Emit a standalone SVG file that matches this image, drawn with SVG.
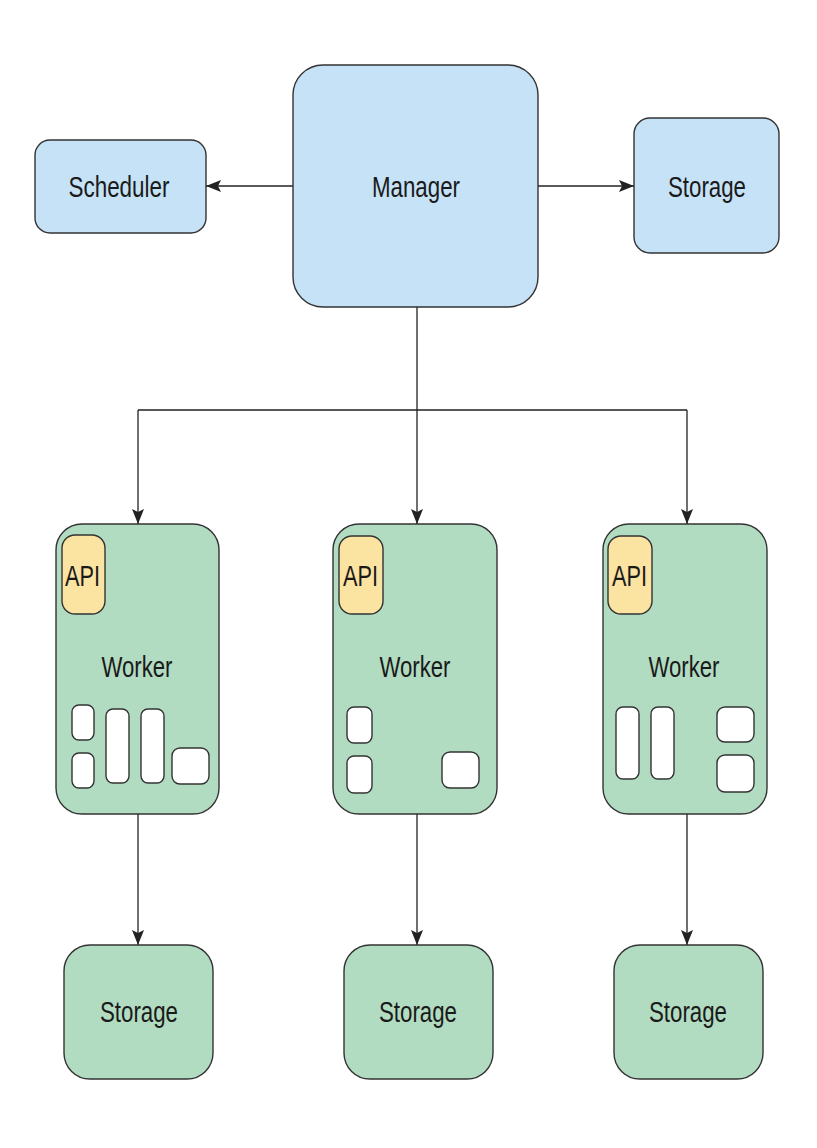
<svg xmlns="http://www.w3.org/2000/svg" width="817" height="1148" viewBox="0 0 817 1148">
<defs>
<marker id="ah" viewBox="0 0 15 12" refX="15" refY="6" markerWidth="15" markerHeight="12" markerUnits="userSpaceOnUse" orient="auto">
<path d="M0,0 L15,6 L0,12 L3,6 Z" fill="#222"/>
</marker>
</defs>
<style>
.blue{fill:#c6e2f6;stroke:#333;stroke-width:1.4}
.green{fill:#b2dcc1;stroke:#333;stroke-width:1.4}
.api{fill:#fbe3a1;stroke:#333;stroke-width:1.4}
.slot{fill:#fff;stroke:#333;stroke-width:1.4}
.lbl{font-family:"Liberation Sans",Arial,sans-serif;font-size:30px;fill:#1a1a1a;text-anchor:middle}
.apil{font-family:"Liberation Sans",Arial,sans-serif;font-size:30px;fill:#1a1a1a}
.conn{fill:none;stroke:#222;stroke-width:1.3}
</style>
<rect width="817" height="1148" fill="#fff"/>
<g id="connectors">
<line class="conn" x1="293" y1="186" x2="206" y2="186" marker-end="url(#ah)"/>
<line class="conn" x1="538" y1="186" x2="634" y2="186" marker-end="url(#ah)"/>
<path class="conn" d="M417,307 V410 M138,410 H687"/>
<line class="conn" x1="138" y1="410" x2="138" y2="524" marker-end="url(#ah)"/>
<line class="conn" x1="417" y1="410" x2="417" y2="524" marker-end="url(#ah)"/>
<line class="conn" x1="687" y1="410" x2="687" y2="524" marker-end="url(#ah)"/>
<line class="conn" x1="138" y1="814" x2="138" y2="945" marker-end="url(#ah)"/>
<line class="conn" x1="417" y1="814" x2="417" y2="945" marker-end="url(#ah)"/>
<line class="conn" x1="687" y1="814" x2="687" y2="945" marker-end="url(#ah)"/>
</g>
<g id="scheduler">
<rect class="blue" x="35" y="140" width="171" height="93" rx="15"/>
<text class="lbl" x="119" y="197" textLength="101" lengthAdjust="spacingAndGlyphs">Scheduler</text>
</g>
<g id="manager">
<rect class="blue" x="293" y="65" width="245" height="242" rx="30"/>
<text class="lbl" x="416" y="197" textLength="88" lengthAdjust="spacingAndGlyphs">Manager</text>
</g>
<g id="storage-top">
<rect class="blue" x="634" y="118" width="145" height="135" rx="16"/>
<text class="lbl" x="707" y="197" textLength="78" lengthAdjust="spacingAndGlyphs">Storage</text>
</g>
<g id="worker1">
<rect class="green" x="56" y="524" width="163" height="290" rx="26"/>
<rect class="api" x="62" y="535" width="43" height="79" rx="13"/>
<text class="apil" x="65" y="586" textLength="35" lengthAdjust="spacingAndGlyphs">API</text>
<text class="lbl" x="137" y="677" textLength="71" lengthAdjust="spacingAndGlyphs">Worker</text>
<rect class="slot" x="72" y="705" width="22" height="35" rx="7"/>
<rect class="slot" x="72" y="753" width="22" height="35" rx="7"/>
<rect class="slot" x="106" y="709" width="23" height="74" rx="7"/>
<rect class="slot" x="141" y="709" width="23" height="74" rx="7"/>
<rect class="slot" x="172" y="748" width="37" height="36" rx="8"/>
</g>
<g id="worker2">
<rect class="green" x="333" y="524" width="164" height="290" rx="26"/>
<rect class="api" x="339" y="536" width="44" height="78" rx="13"/>
<text class="apil" x="343" y="586" textLength="35" lengthAdjust="spacingAndGlyphs">API</text>
<text class="lbl" x="415" y="677" textLength="71" lengthAdjust="spacingAndGlyphs">Worker</text>
<rect class="slot" x="347" y="707" width="25" height="36" rx="7"/>
<rect class="slot" x="347" y="756" width="25" height="37" rx="7"/>
<rect class="slot" x="442" y="752" width="37" height="36" rx="8"/>
</g>
<g id="worker3">
<rect class="green" x="603" y="524" width="164" height="290" rx="26"/>
<rect class="api" x="608" y="536" width="44" height="78" rx="13"/>
<text class="apil" x="612" y="586" textLength="35" lengthAdjust="spacingAndGlyphs">API</text>
<text class="lbl" x="684" y="677" textLength="71" lengthAdjust="spacingAndGlyphs">Worker</text>
<rect class="slot" x="616" y="707" width="23" height="72" rx="7"/>
<rect class="slot" x="651" y="707" width="23" height="72" rx="7"/>
<rect class="slot" x="717" y="707" width="37" height="35" rx="8"/>
<rect class="slot" x="717" y="755" width="37" height="37" rx="8"/>
</g>
<g id="storage1">
<rect class="green" x="64" y="945" width="149" height="134" rx="26"/>
<text class="lbl" x="139" y="1022" textLength="78" lengthAdjust="spacingAndGlyphs">Storage</text>
</g>
<g id="storage2">
<rect class="green" x="344" y="945" width="149" height="134" rx="26"/>
<text class="lbl" x="418" y="1022" textLength="78" lengthAdjust="spacingAndGlyphs">Storage</text>
</g>
<g id="storage3">
<rect class="green" x="614" y="945" width="149" height="134" rx="26"/>
<text class="lbl" x="688" y="1022" textLength="78" lengthAdjust="spacingAndGlyphs">Storage</text>
</g>
</svg>
